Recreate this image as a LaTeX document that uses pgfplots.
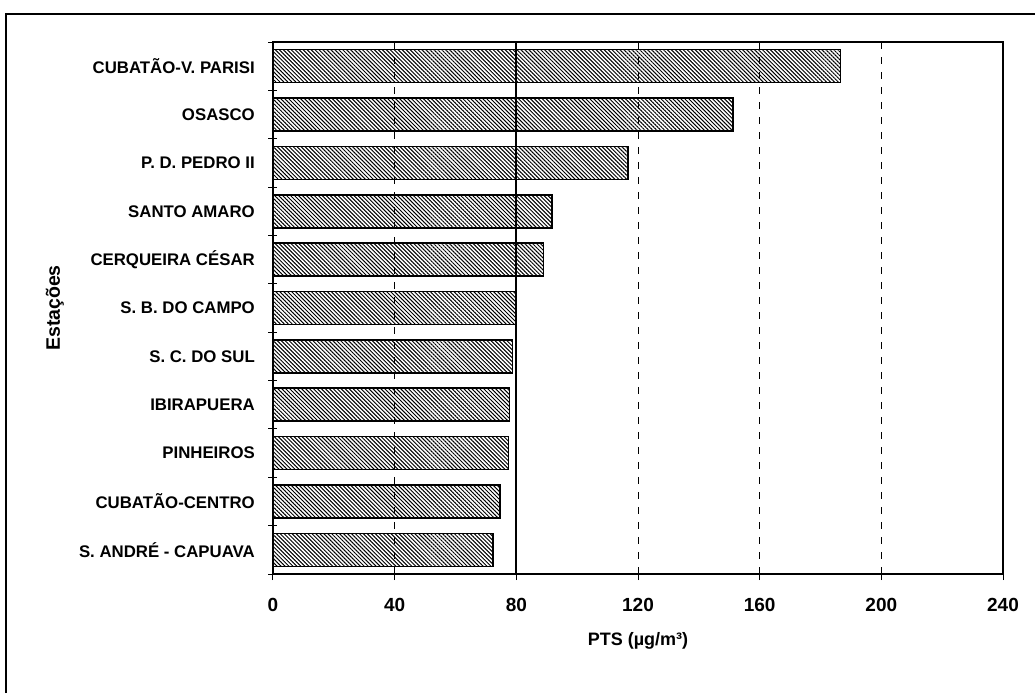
\documentclass[border=0pt]{standalone}
\usepackage{fontspec}
\setmainfont{Liberation Sans}
\usepackage{pgfplots}
\pgfplotsset{compat=1.18}
\usetikzlibrary{patterns.meta}
\begin{document}
\begin{tikzpicture}
\begin{axis}[
  at={(0pt,0pt)}, anchor=south west,
  scale only axis, width=730pt, height=532pt,
  xbar, bar width=33pt,
  xmin=0, xmax=240, ymin=-0.5, ymax=10.5,
  y dir=reverse,
  xtick={0,40,...,240},
  ytick={0,...,10},
  yticklabels={CUBATÃO-V. PARISI, OSASCO, P. D. PEDRO II, SANTO AMARO, CERQUEIRA CÉSAR, S. B. DO CAMPO, S. C. DO SUL, IBIRAPUERA, PINHEIROS, CUBATÃO-CENTRO, S. ANDRÉ - CAPUAVA},
  minor ytick={-0.5,0.5,...,10.5},
  xtick pos=bottom, ytick pos=left,
  major y tick style={draw=none},
  minor y tick style={line width=1pt, black},
  minor tick length=9pt,
  major x tick style={line width=1pt, black},
  major tick length=6pt,
  xtick align=outside, ytick align=center,
  xmajorgrids, major grid style={black, line width=0.8pt, dash pattern=on 7pt off 8pt},
  axis line style={line width=1.6pt},
  /pgf/number format/assume math mode=true,
  xticklabel style={font=\bfseries\fontsize{19}{22}\selectfont, anchor=base, yshift=-31pt},
  yticklabel style={font=\bfseries\fontsize{16.8}{19}\selectfont, anchor=east, inner sep=0pt, xshift=-15pt},
  xlabel={PTS (µg/m³)},
  xlabel style={font=\bfseries\fontsize{18}{21}\selectfont, at={(rel axis cs:0.5,0)}, anchor=center, yshift=-67pt},
  ylabel={Estações},
  ylabel style={font=\bfseries\fontsize{19.5}{22}\selectfont, at={(rel axis cs:0,0.5)}, anchor=center, yshift=218pt},
]
\addplot[draw=black, line width=1.6pt, pattern={Lines[angle=-45,distance=2.8pt,line width=1pt]}, pattern color=black]
coordinates {
(186.6,0) (151.2,1) (116.7,2) (91.8,3) (88.9,4) (79.8,5) (78.8,6) (77.7,7) (77.4,8) (74.6,9) (72.4,10)
};
\draw[line width=2pt] (axis cs:80,-0.5) -- (axis cs:80,10.5);
\end{axis}
\draw[line width=1.5pt] (-267pt,-119pt) -- (-267pt,560pt) -- (762pt,560pt);
\pgfresetboundingbox
\useasboundingbox (-273pt,-119pt) rectangle (762pt,574pt);
\end{tikzpicture}
\end{document}
